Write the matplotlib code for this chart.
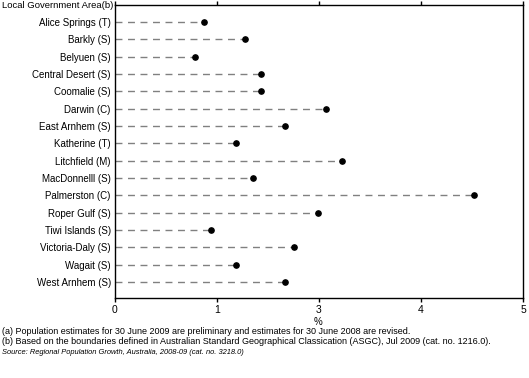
import matplotlib
matplotlib.use("Agg")
import matplotlib.pyplot as plt
from matplotlib import font_manager

names = {f.name for f in font_manager.fontManager.ttflist}
FONT = "Liberation Sans Narrow" if "Liberation Sans Narrow" in names else "Liberation Sans"
plt.rcParams["font.family"] = [FONT, "DejaVu Sans"]

categories = ["Alice Springs (T)", "Barkly (S)", "Belyuen (S)", "Central Desert (S)",
              "Coomalie (S)", "Darwin (C)", "East Arnhem (S)", "Katherine (T)",
              "Litchfield (M)", "MacDonnelll (S)", "Palmerston (C)", "Roper Gulf (S)",
              "Tiwi Islands (S)", "Victoria-Daly (S)", "Wagait (S)", "West Arnhem (S)"]
values = [0.87, 1.27, 0.78, 1.43, 1.43, 2.07, 1.67, 1.19,
          2.23, 1.35, 3.52, 1.99, 0.94, 1.75, 1.19, 1.67]
tick_positions = [0, 1, 2, 3, 4]
tick_labels = ["0", "1", "3", "4", "5"]

W, H = 529, 378
fig = plt.figure(figsize=(W / 100, H / 100), dpi=100)
L, R, T, B = 115, 523, 5, 298
ax = fig.add_axes([L / W, 1 - B / H, (R - L) / W, (B - T) / H])

ys = list(range(len(categories)))
for y, v in zip(ys, values):
    ax.plot([0, v], [y, y], color="#808080", lw=1.0, dashes=(5, 4), zorder=1)
ax.plot(values, ys, linestyle="none", marker="o", ms=3.8, color="black", zorder=2)

ax.set_xlim(0, 4)
ax.set_ylim(len(categories) - 1 + 0.92, -0.98)
ax.set_yticks(ys)
ax.set_yticklabels(categories, fontsize=7)
ax.set_xticks(tick_positions)
ax.set_xticklabels(tick_labels, fontsize=7.5)
ax.tick_params(axis="y", length=0, pad=3)
ax.tick_params(axis="x", length=3, width=1, direction="out", top=True, pad=2)
for s in ax.spines.values():
    s.set_linewidth(1.0)
    s.set_color("black")

def px(x, y):
    return x / W, 1 - y / H

fig.text(*px(2, 5), "Local Government Area(b)", fontsize=6.8, ha="left", va="center")
fig.text(*px(318, 322), "%", fontsize=7, ha="center", va="center")
fig.text(*px(2, 332), "(a) Population estimates for 30 June 2009 are preliminary and estimates for 30 June 2008 are revised.",
         fontsize=6.45, ha="left", va="center")
fig.text(*px(2, 342), "(b) Based on the boundaries defined in Australian Standard Geographical Classication (ASGC), Jul 2009 (cat. no. 1216.0).",
         fontsize=6.45, ha="left", va="center")
fig.text(*px(2, 353), "Source: Regional Population Growth, Australia, 2008-09 (cat. no. 3218.0)",
         fontsize=5.4, ha="left", va="center", style="italic")

fig.savefig("out.png", dpi=100)
